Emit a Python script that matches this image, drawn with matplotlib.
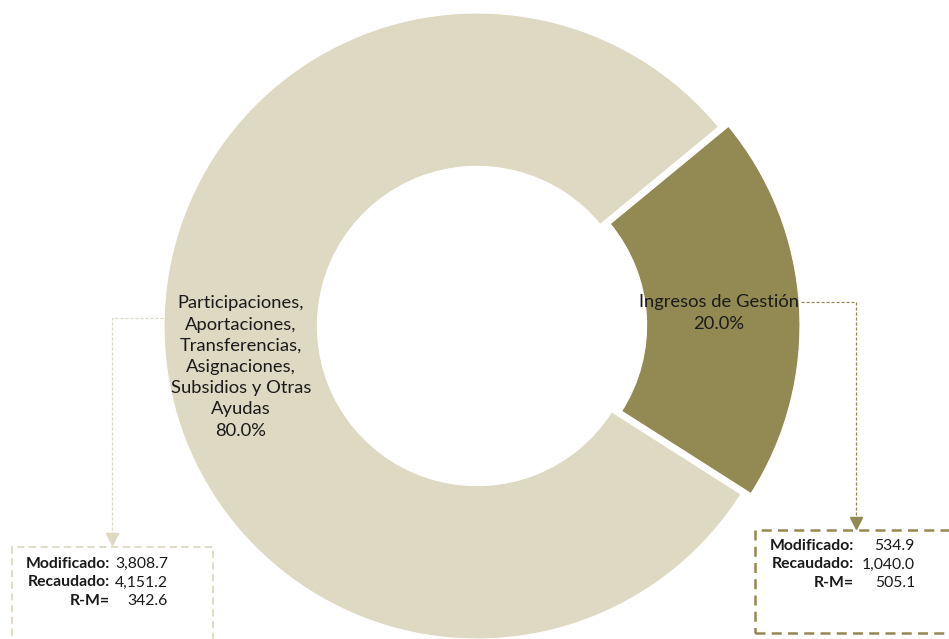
import numpy as np
import matplotlib.pyplot as plt
from matplotlib.patches import Rectangle

plt.rcParams['font.family'] = ['Lato', 'DejaVu Sans']

# data
categorias = ['Ingresos de Gestión',
              'Participaciones,\nAportaciones,\nTransferencias,\nAsignaciones,\nSubsidios y Otras\nAyudas']
porcentajes = [20.0, 80.0]
modificado = [534.9, 3808.7]
recaudado = [1040.0, 4151.2]
r_m = [505.1, 342.6]

olive = '#938953'
light = '#DDD9C3'
txt = '#1a1a1a'

W, H = 949, 639
def py(y):
    return H - y

fig = plt.figure(figsize=(9.49, 6.39), dpi=100)
ax = fig.add_axes([0, 0, 1, 1])

R = 313
cx, cy = 477, 326
ax.pie(porcentajes, colors=[olive, light], startangle=-32.5, counterclock=True,
       explode=[10, 0], radius=R, center=(cx, py(cy)),
       wedgeprops=dict(width=R * 0.49, edgecolor='white', linewidth=0.8))
ax.set_xlim(0, W)
ax.set_ylim(0, H)
ax.set_aspect('equal')
ax.axis('off')

# slice labels
ax.text(719, py(313), f'{categorias[0]}\n{porcentajes[0]:.1f}%', ha='center', va='center',
        fontsize=13.2, color=txt, linespacing=1.4)
ax.text(241, py(367), f'{categorias[1]}\n{porcentajes[1]:.1f}%', ha='center', va='center',
        fontsize=13.2, color=txt, linespacing=1.4)

# leader lines with arrowheads
ax.plot([801, 856, 856], [py(302), py(302), py(520)], color=olive, lw=0.9,
        ls=(0, (2.5, 1.5)))
ax.plot([856], [py(523)], marker='v', markersize=9, color=olive, mec=olive)
ax.plot([163, 112, 112], [py(318), py(318), py(536)], color=light, lw=0.9,
        ls=(0, (2.5, 1.5)))
ax.plot([112], [py(539)], marker='v', markersize=9, color=light, mec=light)

# boxes
ax.add_patch(Rectangle((12, py(660)), 201, 113, fill=False, ec=light, lw=1.3,
                       ls=(0, (4, 2.5))))
ax.add_patch(Rectangle((755, py(633)), 220, 103, fill=False, ec=olive, lw=1.8,
                       ls=(0, (4, 2.5))))

# box contents
def caja(x_lab, x_val, y0, i):
    filas = [('Modificado:', modificado[i]), ('Recaudado:', recaudado[i]), ('R-M=', r_m[i])]
    for k, (lab, val) in enumerate(filas):
        y = py(y0 + k * 18.5)
        ax.text(x_lab, y, lab, ha='right', va='center', fontsize=11.3, fontweight='bold', color=txt)
        ax.text(x_val, y, f'{val:,.1f}', ha='right', va='center', fontsize=11.3, color=txt)

caja(110, 168, 564, 1)
caja(854, 915, 546, 0)

fig.savefig('out.png', dpi=100)
